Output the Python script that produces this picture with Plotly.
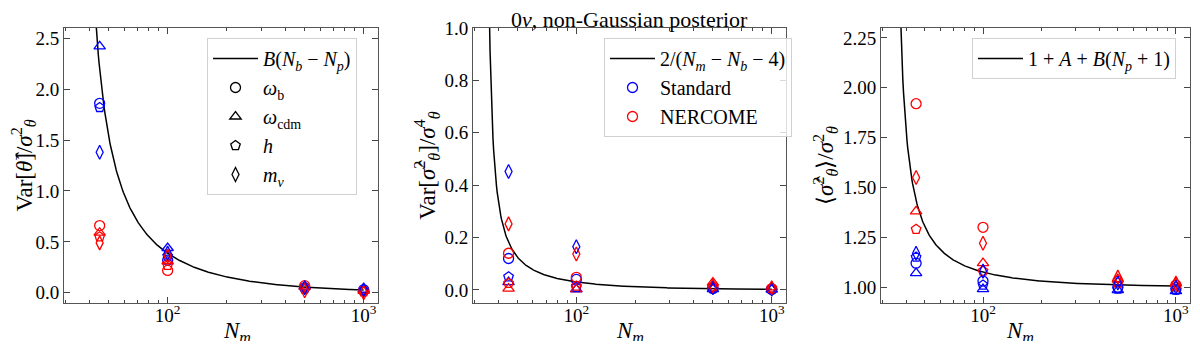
import numpy as np
import plotly.graph_objects as go
from plotly.subplots import make_subplots

# simulation sizes
Nm = [45, 100, 500, 1000]
N_b = 30
N_p = 4

params = ["ω_b", "ω_cdm", "h", "m_ν"]
param_labels = ["<i>ω</i><sub>b</sub>", "<i>ω</i><sub>cdm</sub>", "<i>h</i>", "<i>m</i><sub><i>ν</i></sub>"]
symbols = ["circle-open", "triangle-up-open", "pentagon-open", "diamond-tall-open"]

# Var[theta_hat]/sigma^2
var_theta_std = {
    "ω_b": [1.86, 0.32, 0.05, 0.03],
    "ω_cdm": [2.42, 0.44, 0.06, 0.03],
    "h": [1.82, 0.36, 0.04, 0.02],
    "m_ν": [1.38, 0.39, 0.05, 0.03],
}
var_theta_ner = {
    "ω_b": [0.66, 0.22, 0.07, 0.02],
    "ω_cdm": [0.59, 0.31, 0.06, 0.02],
    "h": [0.55, 0.27, 0.05, 0.01],
    "m_ν": [0.49, 0.36, 0.02, 0.0],
}
# Var[sigma_hat^2]/sigma^4
var_sig_std = {
    "ω_b": [0.12, 0.04, 0.005, 0.002],
    "ω_cdm": [0.03, 0.002, 0.003, 0.001],
    "h": [0.05, 0.01, 0.005, 0.002],
    "m_ν": [0.452, 0.165, 0.008, 0.003],
}
var_sig_ner = {
    "ω_b": [0.14, 0.048, 0.01, 0.005],
    "ω_cdm": [0.005, 0.003, 0.028, 0.01],
    "h": [0.025, 0.015, 0.012, 0.006],
    "m_ν": [0.252, 0.137, 0.015, 0.008],
}
# <sigma_hat^2>/sigma^2
mean_sig_std = {
    "ω_b": [1.12, 1.03, 1.0, 0.99],
    "ω_cdm": [1.07, 0.99, 0.985, 0.98],
    "h": [1.15, 1.01, 0.99, 0.985],
    "m_ν": [1.17, 1.08, 1.02, 1.0],
}
mean_sig_ner = {
    "ω_b": [1.92, 1.30, 1.03, 1.01],
    "ω_cdm": [1.38, 1.12, 1.04, 1.02],
    "h": [1.29, 1.08, 1.02, 1.0],
    "m_ν": [1.55, 1.22, 1.05, 1.02],
}

# theory curves
nm = np.geomspace(35, 1000, 400)
d = nm - N_b
B = (d - 2) / ((d - 1) * (d - 4))
A = 2 / ((d - 1) * (d - 4))
curve1 = B * (N_b - N_p)
curve2 = 2 / (nm - N_b - 4)
curve3 = 1 + A + B * (N_p + 1)

BLUE = "#0000ff"
RED = "#ff0000"
FONT = "Liberation Serif, Times New Roman, serif"

# page body has an 8px margin, so the figure is 16px smaller than the window
W, H = 1184, 333

fig = make_subplots(rows=1, cols=3)

panels = [
    (curve1, "<i>B</i>(<i>N</i><sub><i>b</i></sub> − <i>N</i><sub><i>p</i></sub>)", var_theta_std, var_theta_ner, "legend"),
    (curve2, "2/(<i>N</i><sub><i>m</i></sub> − <i>N</i><sub><i>b</i></sub> − 4)", var_sig_std, var_sig_ner, "legend2"),
    (curve3, "1 + <i>A</i> + <i>B</i>(<i>N</i><sub><i>p</i></sub> + 1)", mean_sig_std, mean_sig_ner, "legend3"),
]

for i, (curve, lab, std, ner, leg) in enumerate(panels):
    col = i + 1
    fig.add_trace(go.Scatter(x=nm, y=curve, mode="lines", line=dict(color="black", width=1.5),
                             name=lab, legend=leg), row=1, col=col)
    for p, sym in zip(params, symbols):
        fig.add_trace(go.Scatter(x=Nm, y=std[p], mode="markers", showlegend=False,
                                 marker=dict(symbol=sym, size=10, color=BLUE, line=dict(width=1.3, color=BLUE))),
                      row=1, col=col)
        fig.add_trace(go.Scatter(x=Nm, y=ner[p], mode="markers", showlegend=False,
                                 marker=dict(symbol=sym, size=10, color=RED, line=dict(width=1.3, color=RED))),
                      row=1, col=col)

# legend entries for parameters (panel 1)
for lab, sym in zip(param_labels, symbols):
    fig.add_trace(go.Scatter(x=[None], y=[None], mode="markers", name=lab, legend="legend",
                             marker=dict(symbol=sym, size=10, color="black", line=dict(width=1.3, color="black"))),
                  row=1, col=1)
# legend entries for estimators (panel 2)
for lab, c in [("Standard", BLUE), ("NERCOME", RED)]:
    fig.add_trace(go.Scatter(x=[None], y=[None], mode="markers", name=lab, legend="legend2",
                             marker=dict(symbol="circle-open", size=10, color=c, line=dict(width=1.3, color=c))),
                  row=1, col=2)

ytop, ybot = 1 - 20 / H, 1 - 295 / H
doms = [(56, 370), (465, 778), (873, 1182)]
yranges = [[-0.1, 2.6], [-0.05, 1.0], [0.92, 2.3]]
ytickvals = [[0, 0.5, 1.0, 1.5, 2.0, 2.5], [0, 0.2, 0.4, 0.6, 0.8, 1.0], [1.0, 1.25, 1.5, 1.75, 2.0, 2.25]]
yticktext = [["0.0", "0.5", "1.0", "1.5", "2.0", "2.5"], ["0.0", "0.2", "0.4", "0.6", "0.8", "1.0"],
             ["1.00", "1.25", "1.50", "1.75", "2.00", "2.25"]]
ytitles = [
    "Var[<i>θ̂</i>]/<i>σ</i><sup>2</sup><sub><i>θ</i></sub>",
    "Var[<i>σ̂</i><sup>2</sup><sub><i>θ</i></sub>]/<i>σ</i><sup>4</sup><sub><i>θ</i></sub>",
    "⟨<i>σ̂</i><sup>2</sup><sub><i>θ</i></sub>⟩/<i>σ</i><sup>2</sup><sub><i>θ</i></sub>",
]
minor_x = [30, 40, 50, 60, 70, 80, 90, 200, 300, 400, 500, 600, 700, 800, 900]

annotations = [dict(text="0<i>ν</i>, non-Gaussian posterior", x=(465 + 778) / 2 / W, y=1 - 11 / H,
                    yanchor="middle", xref="paper", yref="paper", showarrow=False,
                    font=dict(size=22, family=FONT))]

for i in range(3):
    col = i + 1
    fig.update_xaxes(type="log", range=[np.log10(29.6), np.log10(1183)],
                     domain=[doms[i][0] / W, doms[i][1] / W], automargin=False,
                     tickvals=[100, 1000], ticktext=["10<sup>2</sup>", "10<sup>3</sup>"],
                     ticklabelstandoff=-5,
                     ticks="inside", ticklen=6, tickcolor="#444", mirror="allticks",
                     showline=True, linecolor="#555", linewidth=1, showgrid=False, zeroline=False,
                     minor=dict(tickvals=minor_x, ticks="inside", ticklen=3, tickcolor="#444", showgrid=False),
                     tickfont=dict(size=19), row=1, col=col)
    fig.update_yaxes(range=yranges[i], domain=[ybot, ytop], automargin=False,
                     tickvals=ytickvals[i], ticktext=yticktext[i],
                     ticks="inside", ticklen=6, tickcolor="#444", mirror="allticks",
                     showline=True, linecolor="#555", linewidth=1, showgrid=False, zeroline=False,
                     title=dict(text=ytitles[i], font=dict(size=23), standoff=2),
                     tickfont=dict(size=19), row=1, col=col)
    # x-axis title as an annotation below the tick labels
    annotations.append(dict(text="<i>N</i><sub><i>m</i></sub>", x=sum(doms[i]) / 2 / W, y=1 - 324 / H,
                            yanchor="middle", xref="paper", yref="paper", showarrow=False,
                            font=dict(size=23, family=FONT)))

legend_style = dict(bgcolor="rgba(255,255,255,0.8)", bordercolor="#d0d0d0", borderwidth=1,
                    font=dict(size=20, family=FONT, color="black"), xanchor="left", yanchor="top",
                    itemwidth=45)
fig.update_layout(
    width=W, height=H,
    margin=dict(l=0, r=0, t=0, b=0, autoexpand=False),
    paper_bgcolor="white", plot_bgcolor="white",
    font=dict(family=FONT, color="black"),
    legend=dict(x=199 / W, y=1 - 30 / H, **legend_style),
    legend2=dict(x=596 / W, y=1 - 30 / H, **legend_style),
    legend3=dict(x=964 / W, y=1 - 30 / H, **legend_style),
    annotations=annotations,
)

fig.write_html("out.html")
